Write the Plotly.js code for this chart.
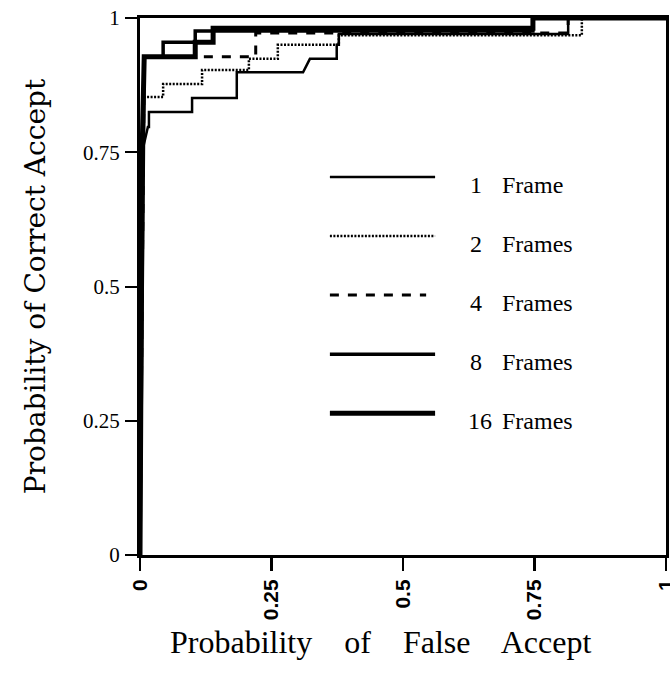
<!DOCTYPE html>
<html><head><meta charset="utf-8">
<script src="https://cdn.plot.ly/plotly-3.0.1.min.js"></script>
<style>html,body{margin:0;padding:0;background:#fff}</style>
</head><body><div id="chart" style="width:670px;height:691px"></div>
<script>
// Series: Probability of False Accept (x) vs Probability of Correct Accept (y)
const frameCounts = [1, 2, 4, 8, 16];
const frameWords = ['Frame', 'Frames', 'Frames', 'Frames', 'Frames'];

const fa1  = [0, 0.004, 0.015, 0.017, 0.017, 0.099, 0.099, 0.184, 0.184, 0.310, 0.323, 0.374, 0.374, 0.378, 0.378, 0.814, 0.814, 1];
const ca1  = [0, 0.750, 0.797, 0.797, 0.825, 0.825, 0.851, 0.851, 0.899, 0.899, 0.924, 0.924, 0.950, 0.950, 0.970, 0.970, 1, 1];

const fa2  = [0, 0.006, 0.044, 0.044, 0.118, 0.118, 0.207, 0.207, 0.262, 0.262, 0.378, 0.378, 0.840, 0.840, 1];
const ca2  = [0, 0.853, 0.853, 0.877, 0.877, 0.903, 0.903, 0.924, 0.924, 0.950, 0.950, 0.968, 0.968, 1, 1];

const fa4  = [0, 0.008, 0.220, 0.220, 0.814, 0.814, 1];
const ca4  = [0, 0.928, 0.928, 0.972, 0.972, 1, 1];

const fa8  = [0, 0.008, 0.044, 0.044, 0.105, 0.105, 0.747, 0.747, 1];
const ca8  = [0, 0.928, 0.928, 0.955, 0.955, 0.976, 0.976, 1, 1];

const fa16 = [0, 0.004, 0.008, 0.105, 0.105, 0.139, 0.139, 0.747, 0.747, 1];
const ca16 = [0, 0.750, 0.928, 0.928, 0.955, 0.955, 0.981, 0.981, 1, 1];

const tickVals = [0, 0.25, 0.5, 0.75, 1];
const tickText = ['0', '0.25', '0.5', '0.75', '1'];

const xs = [fa1, fa2, fa4, fa8, fa16];
const ys = [ca1, ca2, ca4, ca8, ca16];

// styles
const widths = [2.5, 2.5, 3, 3.5, 5];
const dashes = ['solid', '2px,1.5px', '9px,9px', 'solid', 'solid'];

const traces = xs.map((x, i) => ({
  type: 'scatter', mode: 'lines', x: x, y: ys[i],
  name: frameCounts[i] + ' ' + frameWords[i],
  line: {color: '#000', width: widths[i], dash: dashes[i]},
  showlegend: false, hoverinfo: 'skip'
}));

// hand-made legend (long line samples)
const legY = [0.704, 0.594, 0.484, 0.374, 0.264];
const legX0 = 0.361, legX1 = 0.561;
const shapes = legY.map((yv, i) => ({
  type: 'line', xref: 'x', yref: 'y',
  x0: legX0, x1: (i === 2 ? 0.544 : legX1), y0: yv, y1: yv,
  line: {color: '#000', width: widths[i], dash: dashes[i]}
}));
const annotations = [];
legY.forEach((yv, i) => {
  annotations.push({xref: 'x', yref: 'y', x: (i === 4 ? 0.620 : 0.624), y: yv - 0.015,
    text: String(frameCounts[i]), showarrow: false, xanchor: 'left', yanchor: 'middle',
    font: {family: 'Liberation Serif', size: 24, color: '#000'}});
  annotations.push({xref: 'x', yref: 'y', x: 0.684, y: yv - 0.015,
    text: frameWords[i], showarrow: false, xanchor: 'left', yanchor: 'middle',
    font: {family: 'Liberation Serif', size: 24, color: '#000'}});
});
annotations.push({xref: 'paper', yref: 'paper', x: 0.458, y: -0.125, yanchor: 'top', xanchor: 'center',
  text: 'Probability\u00a0\u00a0\u00a0 of\u00a0\u00a0\u00a0 False\u00a0\u00a0\u00a0 Accept', showarrow: false,
  font: {family: 'Liberation Serif', size: 32, color: '#000'}});

const layout = {
  width: 670, height: 691,
  margin: {l: 140, r: 4, t: 18, b: 136},
  paper_bgcolor: '#fff', plot_bgcolor: '#fff',
  showlegend: false,
  xaxis: {
    range: [0, 1], tickvals: tickVals, ticktext: tickText, tickangle: -90,
    ticks: 'outside', ticklen: 13, tickwidth: 2.5, tickcolor: '#000',
    showline: true, linewidth: 3, linecolor: '#000', mirror: true,
    showgrid: false, zeroline: false, ticklabeloverflow: 'allow',
    tickfont: {family: 'Liberation Sans', size: 21, weight: 'bold', color: '#000'}
  },
  yaxis: {
    range: [0, 1], tickvals: tickVals, ticktext: tickText,
    ticks: 'outside', ticklen: 12, tickwidth: 2, tickcolor: '#000',
    showline: true, linewidth: 3, linecolor: '#000', mirror: true,
    showgrid: false, zeroline: false, ticklabelstandoff: 1,
    tickfont: {family: 'Liberation Serif', size: 21, color: '#000'},
    title: {text: 'Probability of Correct Accept', standoff: 30,
      font: {family: 'DejaVu Serif', size: 28, color: '#000'}}
  },
  shapes: shapes,
  annotations: annotations
};

Plotly.newPlot('chart', traces, layout, {displayModeBar: false, staticPlot: true});
</script></body></html>
